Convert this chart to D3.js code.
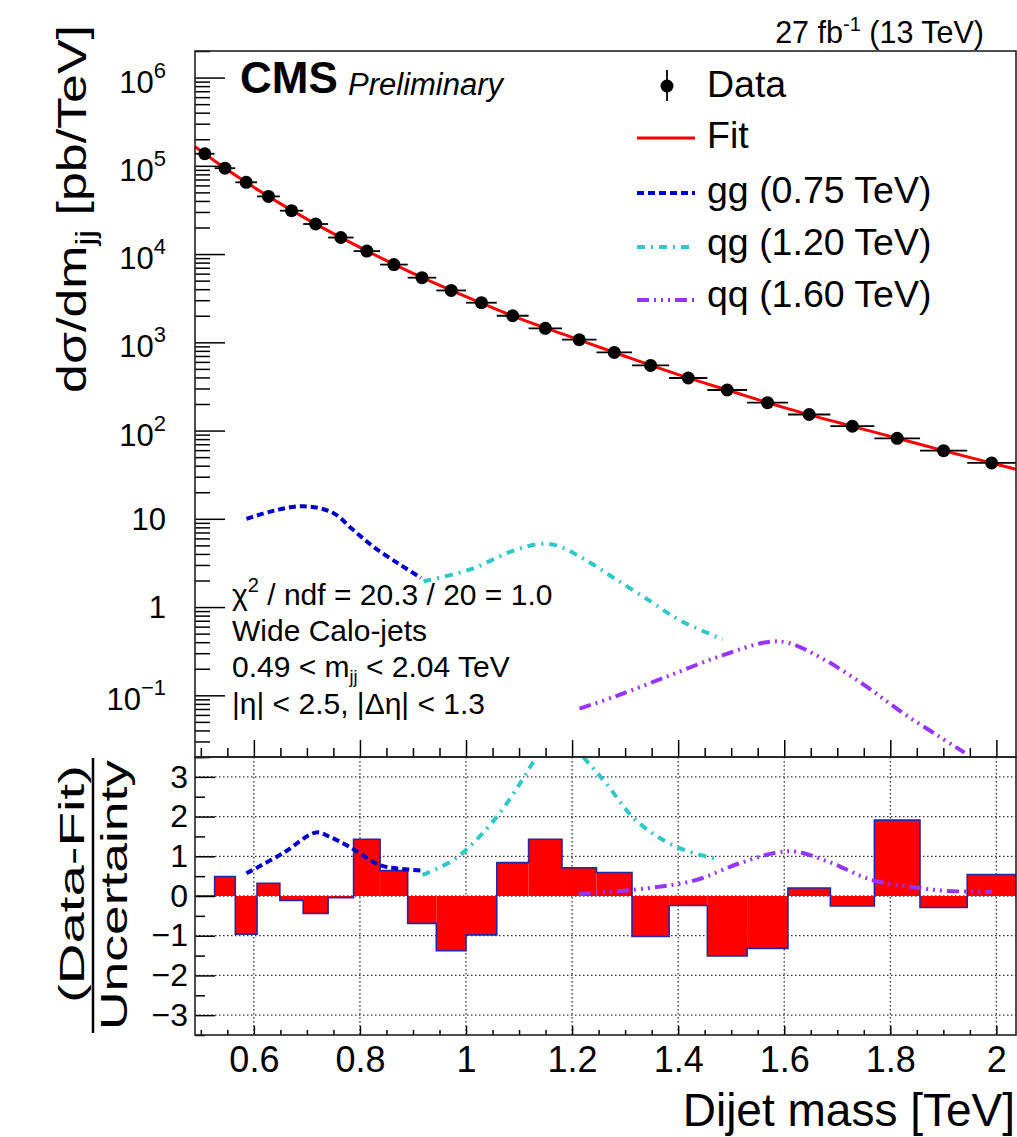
<!DOCTYPE html>
<html>
<head>
<meta charset="utf-8">
<script src="https://cdn.jsdelivr.net/npm/d3@7"></script>
<style>
  body { margin: 0; background: #fff; }
  svg text { font-family: "Liberation Sans", Arial, Helvetica, sans-serif; fill: #000; }
</style>
</head>
<body>
<svg id="chart" width="1017" height="1137"></svg>
<script>
// dijet mass bins [TeV]
var binEdges = [0.489, 0.526, 0.565, 0.606, 0.649, 0.693, 0.740, 0.788, 0.838, 0.890, 0.944, 1.000,
  1.058, 1.118, 1.181, 1.246, 1.313, 1.383, 1.455, 1.530, 1.607, 1.687, 1.770, 1.856, 1.945, 2.037];
// data, dsigma/dm [pb/TeV], one per bin
var dataXsec = [1.37e5, 9.4e4, 6.5e4, 4.5e4, 3.1e4, 2.19e4, 1.54e4, 1.08e4, 7.6e3, 5.4e3, 3.87e3, 2.81e3,
  2.0e3, 1.44e3, 1.07e3, 769, 547, 394, 288, 207, 152, 112, 81.6, 59.2, 43];
// fit curve
var fitMass = [0.489, 0.55, 0.6, 0.7, 0.8, 0.9, 1.0, 1.1, 1.2, 1.3, 1.4, 1.5, 1.6, 1.7, 1.8, 1.9, 2.0, 2.037];
var fitXsec = [1.65e5, 9.0e4, 5.7e4, 2.49e4, 1.19e4, 6.05e3, 3.3e3, 1.87e3, 1.14e3, 695, 431, 279, 182, 124, 86, 59.3, 41.6, 36.5];
// signal shapes, top panel
var ggMass = [0.586, 0.639, 0.692, 0.748, 0.786, 0.824, 0.875, 0.915];
var ggXsec = [10.0, 12.4, 13.9, 11.8, 7.6, 4.9, 3.04, 2.15];
var qgMass = [0.92, 1.008, 1.087, 1.14, 1.175, 1.224, 1.283, 1.352, 1.401, 1.484];
var qgXsec = [1.96, 2.67, 4.3, 5.2, 4.9, 3.46, 2.06, 1.12, 0.72, 0.43];
var qqMass = [1.214, 1.283, 1.381, 1.479, 1.567, 1.607, 1.675, 1.754, 1.823, 1.891, 1.94];
var qqXsec = [0.0705, 0.098, 0.165, 0.278, 0.40, 0.394, 0.255, 0.127, 0.0635, 0.0345, 0.0224];
// (data-fit)/uncertainty per bin
var pullValues = [0, 0.49, -0.96, 0.32, -0.11, -0.44, -0.04, 1.43, 0.64, -0.69, -1.38, -0.98,
  0.84, 1.43, 0.71, 0.59, -1.02, -0.24, -1.51, -1.32, 0.2, -0.25, 1.91, -0.29, 0.54];
// signal shapes, bottom panel
var ggPullMass = [0.586, 0.655, 0.7175, 0.743, 0.78, 0.837, 0.868, 0.918];
var ggPull = [0.57, 1.08, 1.6, 1.49, 1.24, 0.78, 0.70, 0.64];
var qgPullMass = [0.918, 0.981, 1.056, 1.104, 1.132, 1.178, 1.223, 1.264, 1.320, 1.396, 1.477];
var qgPull = [0.53, 0.95, 1.96, 2.88, 3.47, 4.2, 3.47, 2.84, 1.91, 1.24, 0.92];
var qqPullMass = [1.213, 1.339, 1.433, 1.515, 1.584, 1.621, 1.684, 1.766, 1.841, 1.904, 1.992];
var qqPull = [0.05, 0.19, 0.40, 0.82, 1.09, 1.12, 0.86, 0.40, 0.23, 0.13, 0.11];
// ticks
var xTickValues = [0.6, 0.8, 1.0, 1.2, 1.4, 1.6, 1.8, 2.0];
var xTickLabels = ["0.6", "0.8", "1", "1.2", "1.4", "1.6", "1.8", "2"];
var yTickValues = [0.1, 1, 10, 100, 1e3, 1e4, 1e5, 1e6];
var yTickLabels = ["10^\u22121", "1", "10", "10^2", "10^3", "10^4", "10^5", "10^6"];
var pullTickValues = [-3, -2, -1, 0, 1, 2, 3];
var pullTickLabels = ["\u22123", "\u22122", "\u22121", "0", "1", "2", "3"];
var pullMinorValues = [-3.5, -2.5, -1.5, -0.5, 0.5, 1.5, 2.5, 3.5];

var L = 195, R = 1016, T1 = 51, B1 = 757, T2 = 757, B2 = 1035;
var svg = d3.select("#chart");

var x = d3.scaleLinear().domain([binEdges[0], binEdges[binEdges.length - 1]]).range([L, R]);
var y = d3.scaleLog().domain([0.02, 2e6]).range([B1, T1]);
var yp = d3.scaleLinear().domain([-3.5, 3.5]).range([B2, T2]);

var defs = svg.append("defs");
defs.append("clipPath").attr("id", "clipTop").append("rect")
  .attr("x", L).attr("y", T1).attr("width", R - L).attr("height", B1 - T1);
defs.append("clipPath").attr("id", "clipBot").append("rect")
  .attr("x", L).attr("y", T2).attr("width", R - L).attr("height", B2 - T2);

var styles = {
  gg: { color: "#0000cc", dash: "7,4" },
  qg: { color: "#2ec8c8", dash: "8,6,2,6" },
  qq: { color: "#9933ff", dash: "12,5,2,5,2,5,2,5" }
};

function drawCurve(g, xs, ys, yScale, st) {
  var line = d3.line()
    .x(function (d) { return x(d[0]); })
    .y(function (d) { return yScale(d[1]); })
    .curve(d3.curveCatmullRom);
  g.append("path")
    .attr("d", line(xs.map(function (m, i) { return [m, ys[i]]; })))
    .attr("fill", "none")
    .attr("stroke", st.color)
    .attr("stroke-width", 4)
    .attr("stroke-dasharray", st.dash);
}

/* ---------- bottom panel ---------- */
var botG = svg.append("g").attr("clip-path", "url(#clipBot)");

// grid
botG.selectAll("line.gx").data(xTickValues).enter().append("line")
  .attr("x1", d => x(d)).attr("x2", d => x(d)).attr("y1", T2).attr("y2", B2)
  .attr("stroke", "#333").attr("stroke-width", 1.3).attr("stroke-dasharray", "1.5,2.5");
botG.selectAll("line.gy").data(pullTickValues).enter().append("line")
  .attr("x1", L).attr("x2", R).attr("y1", d => yp(d)).attr("y2", d => yp(d))
  .attr("stroke", "#333").attr("stroke-width", 1.3).attr("stroke-dasharray", "1.5,2.5");

botG.selectAll("rect.pull").data(pullValues).enter().append("rect")
  .attr("x", (d, i) => x(binEdges[i]))
  .attr("width", (d, i) => x(binEdges[i + 1]) - x(binEdges[i]))
  .attr("y", d => yp(Math.max(d, 0)))
  .attr("height", d => Math.abs(yp(d) - yp(0)))
  .attr("fill", "#ff0000");

var stepPts = [[binEdges[0], 0]];
pullValues.forEach(function (v, i) {
  stepPts.push([binEdges[i], v]);
  stepPts.push([binEdges[i + 1], v]);
});
stepPts.push([binEdges[binEdges.length - 1], 0]);
botG.append("path")
  .attr("d", d3.line().x(d => x(d[0])).y(d => yp(d[1]))(stepPts))
  .attr("fill", "none").attr("stroke", "#2626a8").attr("stroke-width", 1.6);

drawCurve(botG, ggPullMass, ggPull, yp, styles.gg);
drawCurve(botG, qgPullMass, qgPull, yp, styles.qg);
drawCurve(botG, qqPullMass, qqPull, yp, styles.qq);

/* ---------- top panel ---------- */
var topG = svg.append("g").attr("clip-path", "url(#clipTop)");
drawCurve(topG, ggMass, ggXsec, y, styles.gg);
drawCurve(topG, qgMass, qgXsec, y, styles.qg);
drawCurve(topG, qqMass, qqXsec, y, styles.qq);

topG.append("path")
  .attr("d", d3.line().x(d => x(d[0])).y(d => y(d[1])).curve(d3.curveMonotoneX)(
    fitMass.map(function (m, i) { return [m, fitXsec[i]]; })))
  .attr("fill", "none").attr("stroke", "#ff0000").attr("stroke-width", 3);

topG.selectAll("line.xerr").data(dataXsec).enter().append("line")
  .attr("x1", (d, i) => x(binEdges[i])).attr("x2", (d, i) => x(binEdges[i + 1]))
  .attr("y1", d => y(d)).attr("y2", d => y(d))
  .attr("stroke", "#000").attr("stroke-width", 1.8);
topG.selectAll("circle.pt").data(dataXsec).enter().append("circle")
  .attr("cx", (d, i) => x((binEdges[i] + binEdges[i + 1]) / 2))
  .attr("cy", d => y(d))
  .attr("r", 6.5).attr("fill", "#000");

/* ---------- axes ---------- */
function styleAxis(g) {
  g.select(".domain").remove();
  g.selectAll(".tick line").attr("stroke", "#000").attr("stroke-width", 1.5);
}

var yMinor = y.ticks().filter(function (v) {
  var l = Math.log10(v);
  return Math.abs(l - Math.round(l)) > 1e-6;
});
svg.append("g").attr("transform", "translate(" + L + ",0)")
  .call(d3.axisLeft(y).tickValues(yMinor).tickSize(-15).tickFormat(""))
  .call(styleAxis);
svg.append("g").attr("transform", "translate(" + L + ",0)")
  .call(d3.axisLeft(y).tickValues(yTickValues).tickSize(-30).tickFormat(""))
  .call(styleAxis);

// log labels with superscripts
yTickLabels.forEach(function (lab, i) {
  var parts = lab.split("^");
  var t = svg.append("text")
    .attr("x", 166)
    .attr("y", y(yTickValues[i]) + (parts.length > 1 ? 15 : 11))
    .attr("text-anchor", "end")
    .attr("font-size", 31);
  t.append("tspan").text(parts[0]);
  if (parts.length > 1) {
    t.append("tspan").attr("font-size", 22).attr("dy", -15).text(parts[1]);
  }
});

var xMinor = d3.range(10, 41).map(d => d * 0.05).filter(v => xTickValues.every(m => Math.abs(m - v) > 1e-6));
svg.append("g").attr("transform", "translate(0," + B1 + ")")
  .call(d3.axisBottom(x).tickValues(xMinor).tickSize(-9).tickFormat(""))
  .call(styleAxis);
svg.append("g").attr("transform", "translate(0," + B1 + ")")
  .call(d3.axisBottom(x).tickValues(xTickValues).tickSize(-17).tickFormat(""))
  .call(styleAxis);

svg.append("g").attr("transform", "translate(0," + B2 + ")")
  .call(d3.axisBottom(x).tickValues(xMinor).tickSize(-5).tickFormat(""))
  .call(styleAxis);
var xAx = svg.append("g").attr("transform", "translate(0," + B2 + ")")
  .call(d3.axisBottom(x).tickValues(xTickValues).tickSize(-9).tickPadding(11)
    .tickFormat((d, i) => xTickLabels[i]))
  .call(styleAxis);
xAx.selectAll("text").attr("font-size", 36).attr("font-family", null).attr("fill", "#000");

svg.append("g").attr("transform", "translate(" + L + ",0)")
  .call(d3.axisLeft(yp).tickValues(pullMinorValues).tickSize(-10).tickFormat(""))
  .call(styleAxis);
var ypAx = svg.append("g").attr("transform", "translate(" + L + ",0)")
  .call(d3.axisLeft(yp).tickValues(pullTickValues).tickSize(-20).tickPadding(7)
    .tickFormat((d, i) => pullTickLabels[i]))
  .call(styleAxis);
ypAx.selectAll("text").attr("font-size", 32).attr("font-family", null).attr("fill", "#000");

// frames
svg.append("rect").attr("x", L).attr("y", T1).attr("width", R - L).attr("height", B1 - T1)
  .attr("fill", "none").attr("stroke", "#222").attr("stroke-width", 1.6);
svg.append("rect").attr("x", L).attr("y", T2).attr("width", R - L).attr("height", B2 - T2)
  .attr("fill", "none").attr("stroke", "#222").attr("stroke-width", 1.6);

/* ---------- titles ---------- */
function stretchTo(sel, cx, cy, len) {
  var w = sel.node().getComputedTextLength();
  sel.attr("transform", "translate(" + cx + "," + cy + ") rotate(-90) scale(" + (len / w) + ",1)");
}

var yTitle = svg.append("text").attr("font-size", 40).attr("text-anchor", "middle");
yTitle.append("tspan").text("d\u03c3/dm");
yTitle.append("tspan").attr("font-size", 27).attr("dy", 9).text("jj");
yTitle.append("tspan").attr("dy", -9).text(" [pb/TeV]");
stretchTo(yTitle, 86, 209, 368);

var num = svg.append("text").attr("font-size", 36).attr("text-anchor", "middle").text("(Data-Fit)");
stretchTo(num, 84, 884, 238);
svg.append("line").attr("x1", 93).attr("x2", 93).attr("y1", 758).attr("y2", 1033)
  .attr("stroke", "#000").attr("stroke-width", 2.5);
var den = svg.append("text").attr("font-size", 36).attr("text-anchor", "middle").text("Uncertainty");
stretchTo(den, 127, 895, 270);

svg.append("text").attr("x", 1015).attr("y", 1126).attr("text-anchor", "end")
  .attr("font-size", 46).text("Dijet mass [TeV]");

var lumi = svg.append("text").attr("x", 984).attr("y", 43).attr("text-anchor", "end").attr("font-size", 30.5);
lumi.append("tspan").text("27 fb");
lumi.append("tspan").attr("font-size", 20).attr("dy", -12).text("-1");
lumi.append("tspan").attr("dy", 12).text(" (13 TeV)");

svg.append("text").attr("x", 240).attr("y", 93).attr("font-size", 44).attr("font-weight", "bold").text("CMS");
svg.append("text").attr("x", 348).attr("y", 95).attr("font-size", 31).attr("font-style", "italic").text("Preliminary");

// fit info
var info = svg.append("g").attr("font-size", 30);
var l1 = info.append("text").attr("x", 232).attr("y", 605);
l1.append("tspan").text("\u03c7");
l1.append("tspan").attr("font-size", 20).attr("dy", -13).text("2");
l1.append("tspan").attr("dy", 13).text(" / ndf = 20.3 / 20 = 1.0");
info.append("text").attr("x", 232).attr("y", 641).text("Wide Calo-jets");
var l3 = info.append("text").attr("x", 232).attr("y", 677);
l3.append("tspan").text("0.49 < m");
l3.append("tspan").attr("font-size", 18).attr("dy", 6).text("jj");
l3.append("tspan").attr("dy", -6).text(" < 2.04 TeV");
info.append("text").attr("x", 232).attr("y", 714).text("|\u03b7| < 2.5, |\u0394\u03b7| < 1.3");

/* ---------- legend ---------- */
var legendNames = ["Data", "Fit", "gg (0.75 TeV)", "qg (1.20 TeV)", "qq (1.60 TeV)"];
var legendBase = [97, 148, 203, 255, 307];
var legendSym = [86, 138, 193, 247, 300];
var leg = svg.append("g");
legendNames.forEach(function (n, i) {
  leg.append("text").attr("x", 707).attr("y", legendBase[i]).attr("font-size", 37.5).text(n);
});
leg.append("line").attr("x1", 667).attr("x2", 667).attr("y1", 70).attr("y2", 101)
  .attr("stroke", "#000").attr("stroke-width", 1.8);
leg.append("circle").attr("cx", 667).attr("cy", legendSym[0]).attr("r", 6.5).attr("fill", "#000");
leg.append("line").attr("x1", 637).attr("x2", 695).attr("y1", legendSym[1]).attr("y2", legendSym[1])
  .attr("stroke", "#ff0000").attr("stroke-width", 3);
[styles.gg, styles.qg, styles.qq].forEach(function (st, i) {
  leg.append("line").attr("x1", 637).attr("x2", 695)
    .attr("y1", legendSym[i + 2]).attr("y2", legendSym[i + 2])
    .attr("stroke", st.color).attr("stroke-width", 4).attr("stroke-dasharray", st.dash);
});
</script>
</body>
</html>
